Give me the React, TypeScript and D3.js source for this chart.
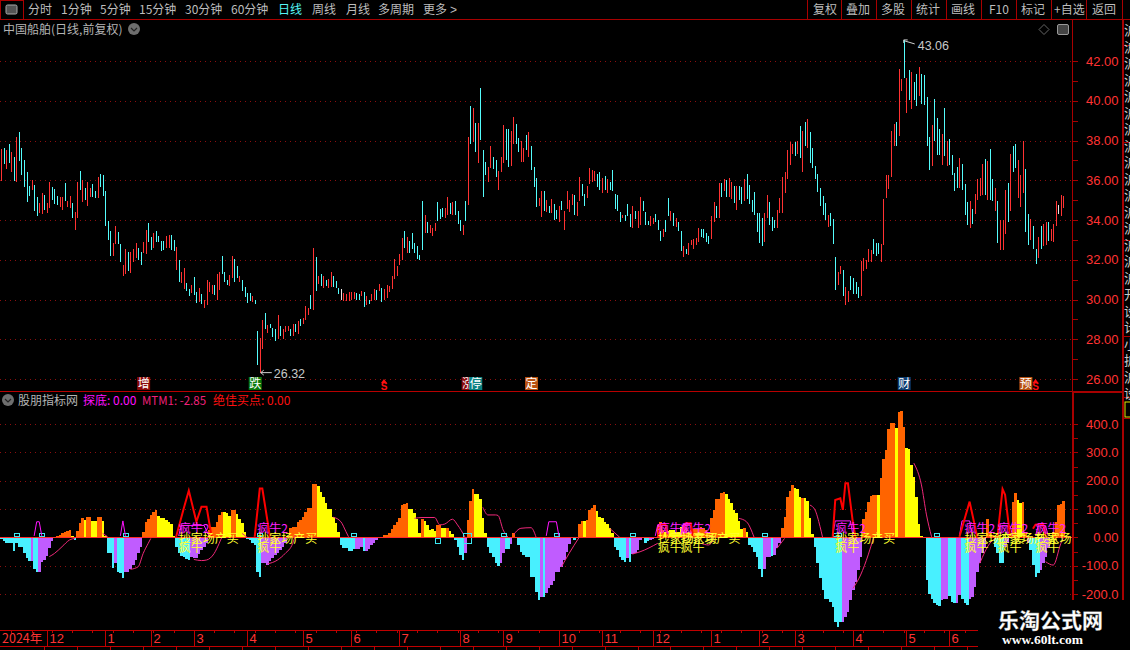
import { useEffect, useRef } from 'react';
import * as d3 from 'd3';

const highs = [
  37.57, 37.6, 37.5, 37.8, 37.4, 37.15, 38.2, 38.45, 37.6, 37,
  36.4, 35.7, 36, 35.75, 35.15, 34.85, 35.35, 35.25, 34.85, 35.9,
  35.65, 35.55, 35.2, 35.15, 35.15, 35.85, 34.95, 35.2, 34.85, 34.4,
  35.9, 36.45, 36, 35.6, 35.9, 35.6, 35.8, 35.45, 36.15, 36.3,
  36.25, 35.45, 33.95, 33.45, 32.85, 33.7, 33.4, 32.8, 31.75, 32.55,
  32.4, 32.4, 32.55, 32.85, 32.6, 32.4, 32.9, 33.5, 33.85, 33.15,
  33.35, 33.45, 33.2, 32.95, 32.95, 33.2, 33.25, 33.25, 33, 32.65,
  32, 31.4, 31.6, 30.85, 30.55, 30.75, 31.15, 30.4, 30.6, 30.3,
  30, 31, 30.9, 30.75, 30.75, 31.3, 31.4, 32.2, 31.4, 31,
  31.25, 32.2, 32.05, 31.7, 31.2, 31, 30.65, 30.35, 30.35, 30.2,
  30, 28.42, 28.07, 28.95, 29.3, 28.7, 28.75, 28.55, 28.5, 29.2,
  28.65, 28.5, 28.65, 28.65, 28.5, 28.75, 28.75, 28.9, 29, 29.05,
  29.65, 29.55, 30.25, 32.6, 32.15, 31.2, 31.3, 31.2, 31, 31.05,
  31.4, 31.2, 30.95, 30.6, 30.55, 30.35, 30.3, 30.4, 30.4, 30.4,
  30.35, 30.3, 30.45, 30.4, 30.2, 30, 30.3, 30.55, 30.5, 30.8,
  30.6, 30.55, 30.75, 30.7, 31.2, 32.05, 31.7, 32.3, 33.1, 33.45,
  33.15, 32.95, 33.35, 32.85, 32.7, 32.25, 34.95, 34.25, 33.9, 33.75,
  33.6, 33.85, 34.9, 34.55, 34.6, 34.6, 35.15, 34.85, 34.9, 34.95,
  34.45, 34, 33.75, 34.95, 38.2, 39.75, 39.65, 38.9, 38.9, 40.65,
  37.5, 36.9, 36.65, 37.7, 37.15, 37, 36.45, 37.15, 38.8, 38.6,
  38.6, 38.5, 39.2, 38.85, 38.15, 37.95, 37.6, 38.3, 38.45, 37.7,
  36.65, 36.1, 35.1, 35.45, 35.45, 35, 34.7, 35.05, 34.8, 34.5,
  34.7, 34.95, 34.45, 35.45, 35, 35.3, 35.25, 34.9, 36.15, 35.8,
  35.3, 35.7, 36.6, 36.5, 36.45, 36.3, 36.4, 36.1, 36.2, 36.05,
  35.9, 36.5, 35.3, 35.25, 34.4, 34.25, 34.25, 34.8, 34.3, 34.7,
  34.45, 34.45, 35.15, 34.95, 34.4, 33.95, 34.2, 34.1, 34.3, 34,
  33.45, 33.55, 34, 35.1, 34.45, 34.35, 34.1, 33.9, 33.45, 32.7,
  32.55, 32.85, 33, 33.05, 33.1, 33.6, 33.55, 33.55, 33.35, 33.2,
  34.2, 34.9, 34.7, 35.85, 35.85, 36.05, 36, 36.1, 35.9, 35.7,
  35.7, 35.7, 35.65, 36.05, 36.3, 35.75, 35, 35.4, 34.35, 34.35,
  34.1, 34.35, 35.25, 34.9, 34.15, 34, 34.5, 35.1, 36.15, 36.4,
  37.5, 37.9, 37.8, 37.9, 38, 38.75, 38.5, 38.95, 39.1, 38.45,
  37.6, 36.7, 36.3, 35.6, 35.2, 34.85, 34.25, 34.35, 34.05, 32.15,
  31.4, 31.7, 31.5, 30.65, 30.45, 31.2, 31.1, 30.9, 30.65, 31.95,
  32.1, 32, 32.55, 32.5, 33.05, 32.85, 32.85, 32.8, 35.05, 36.25,
  36.25, 38.5, 38.85, 38.95, 41.6, 41.1, 43.06, 41.15, 41.55, 41.45,
  40.95, 41.35, 41.7, 41.35, 41.3, 40.2, 38.2, 38.8, 40.1, 39.15,
  38.6, 38.35, 39.65, 38, 38.1, 37.25, 36.35, 36.65, 37.1, 36.8,
  35.8, 34.9, 34.95, 34.55, 35.3, 36.05, 36.1, 36.8, 37.05, 36.95,
  37.55, 36.05, 35.6, 34.95, 34, 34, 35.5, 35.85, 37.3, 37.7,
  37.8, 37, 36.25, 37.95, 36.55, 34.3, 34.05, 33.7, 32.55, 33.15,
  33.7, 33.8, 33.9, 33.9, 33.55, 33.8, 34.95, 34.75, 35.25, 35.2,
];

const lows = [
  35.96, 36.8, 36.55, 36.85, 36.4, 35.95, 35.9, 36.95, 36.25, 35.65,
  34.9, 35.2, 35.5, 34.45, 34.2, 34.35, 34.3, 34.5, 34.35, 34.6,
  35, 34.8, 34.75, 34.65, 34.5, 34.95, 34.65, 34.6, 34.1, 33.5,
  34.1, 35.5, 34.9, 35, 34.7, 35.15, 35.15, 35.1, 35.1, 35.65,
  35.2, 33.7, 33, 32.2, 32.2, 32.8, 32.8, 31.9, 31.2, 31.3,
  31.45, 31.35, 31.9, 32.1, 32, 31.75, 32.35, 32.3, 32.9, 32.5,
  32.6, 32.9, 32.9, 32.45, 32.5, 32.6, 32.6, 32.5, 32.45, 31.5,
  30.9, 30.85, 30.55, 30.45, 30.2, 30.35, 30.25, 29.8, 29.85, 29.75,
  29.55, 29.7, 30.4, 30.3, 30.25, 30, 30.5, 31.3, 30.9, 30.75,
  30.7, 31.1, 30.9, 31.1, 30.9, 30.45, 30.15, 29.8, 29.9, 29.85,
  29.75, 26.71, 26.32, 27.5, 28.5, 28.3, 28.55, 28.1, 27.9, 28,
  28.15, 28, 28.35, 28.4, 28.15, 28.15, 28.35, 28.25, 28.65, 28.75,
  28.95, 29.2, 29.5, 29.45, 30.45, 30.8, 30.7, 30.6, 30.7, 30.6,
  30.65, 30.65, 30.6, 30.3, 30, 29.9, 29.9, 29.9, 30, 30.05,
  30, 30, 30.2, 29.6, 29.7, 29.75, 29.9, 30, 29.95, 30.45,
  29.85, 30, 30.1, 30.4, 30.55, 31.05, 31.2, 31.75, 32, 32.6,
  32.35, 32.35, 32.55, 32.35, 32.05, 32, 32.5, 33.35, 33.35, 33.35,
  33.2, 33.45, 33.95, 34.05, 34.15, 34.1, 34.25, 34.3, 34.25, 34.25,
  33.8, 33.45, 33.25, 33.95, 34.75, 37.8, 37.9, 37.4, 36.85, 38.05,
  35.15, 36.25, 35.9, 36.6, 36.55, 36.15, 35.5, 36.4, 36.85, 37,
  36.65, 36.7, 37.8, 37.8, 37.4, 36.9, 36.9, 37.5, 37.15, 36.5,
  35.65, 34.65, 34.7, 34.15, 34.45, 34.4, 34.35, 34.35, 34, 34.05,
  33.9, 34.5, 33.5, 34.55, 34.4, 34.75, 34.25, 34.2, 34.95, 35.2,
  34.7, 35.1, 35.8, 35.9, 35.95, 35.65, 35.5, 35.35, 35.5, 35.35,
  35.5, 35.45, 34.55, 34.45, 33.9, 34.1, 33.95, 34.2, 33.65, 33.6,
  34.05, 33.6, 33.75, 34.45, 33.75, 33.75, 33.7, 33.8, 33.9, 33.5,
  32.95, 33.15, 33.4, 34.2, 33.95, 33.7, 33.65, 33.45, 32.45, 32.15,
  32.3, 32.25, 32.75, 32.55, 32.75, 32.9, 33.15, 33.1, 32.9, 32.8,
  33.05, 33.9, 34.1, 34.1, 35.15, 35.45, 35.15, 35.15, 35.05, 34.85,
  34.5, 35, 34.8, 34.95, 35.05, 34.8, 34.4, 34.25, 33.4, 32.85,
  32.7, 32.9, 34.1, 33.75, 33.45, 33.6, 33.6, 34.35, 34.35, 35.35,
  36.05, 36.75, 37.3, 37.2, 37.3, 37.1, 36.4, 37.7, 37.6, 36.85,
  36.6, 36.05, 35.4, 34.7, 34.25, 34, 33.65, 33.7, 32.8, 30.5,
  30.75, 31.3, 30.2, 29.7, 29.85, 30.5, 30.3, 30.3, 30.1, 30.2,
  31.45, 31.55, 31.9, 31.9, 32.3, 32.2, 32.3, 31.9, 32.75, 35.1,
  35.55, 36.15, 37.7, 37.7, 38.25, 40.5, 41.15, 39.4, 40.05, 39.6,
  40.05, 39.75, 40.25, 39.85, 39.8, 37.7, 36.5, 36.7, 37.95, 37.25,
  37.25, 36.75, 37.2, 36.7, 36.75, 36.25, 35.45, 35.6, 35.6, 35.5,
  34.25, 33.75, 33.6, 33.8, 34.3, 35, 35.2, 35.25, 35.25, 35,
  35, 34.95, 34.45, 32.85, 32.5, 32.5, 33.3, 33.9, 34.45, 36.4,
  36.6, 35.1, 34.65, 35.35, 33.4, 32.75, 33, 32.55, 31.8, 32.1,
  32.55, 32.7, 32.75, 32.95, 32.95, 32.9, 33.7, 34.3, 34.2, 34.6,
];

const candleKinds = [
  'rcrcrcrccc', 'ccrccrrcrr', 'cccrrcrrcr', 'rcrcrrccrc', 'ccccrrccrr',
  'crrrccrrcc', 'rccccrrccr', 'crrccrccrc', 'rrrrcrrccc', 'rrccrccccr',
  'ccrrcrcccr', 'crrrcrcrcr', 'rrcrcrcrcr', 'rcccwrrrrr', 'ccrcrcrrcr',
  'crrrrrrrrc', 'rccccccrcr', 'rrcccrrcrc', 'ccrcrcrcrc', 'ccrrccrrrc',
  'crrccrrcrc', 'ccrrcrcrcc', 'rcrrrrcrrc', 'crrrrccrcr', 'cccccrcccr',
  'crrcccrrcc', 'crccrcrccr', 'crrrrrcccc', 'rrcrcrcrrc', 'rccrcccccc',
  'crrcccrrrr', 'rrrcrcrcrc', 'ccccccrccc', 'rrcrrccccr', 'rrrrcccrrr',
  'rrrcrrcrcr', 'ccrccccrcc', 'crcrccccrc', 'ccrcrrrrcr', 'ccrcrrrcrc',
  'crrrccrccr', 'crrcrrrwrr',
].join('');

const histValues = [
  -5, -12, -19, -19, -19, -48, -19, -33, -33, -57,
  -74, -84, -84, -112, -121, -121, -88, -80, -65, -37,
  -12, -4, 4, 7, 14, 19, 22, 26, 5, -9,
  24, 50, 67, 61, 72, 72, 59, 59, 72, 72,
  58, 6, -57, -57, -107, -92, -121, -125, -143, -121,
  -121, -112, -98, -80, -57, -33, 20, 53, 64, 79,
  90, 97, 75, 67, 67, 60, 53, 47, 3, -33,
  -57, -66, -68, -78, -80, -68, -74, -74, -59, -45,
  -33, -21, 26, 35, 35, 55, 80, 90, 90, 85,
  75, 97, 97, 82, 64, 50, 20, -5, -9, -21,
  -27, -121, -139, -92, -92, -98, -82, -74, -62, -54,
  -45, -33, -19, -4, 32, 35, 35, 55, 61, 73,
  91, 102, 105, 188, 188, 181, 161, 141, 120, 99,
  99, 71, 49, 19, -27, -37, -37, -48, -48, -41,
  -41, -41, -33, -48, -48, -40, -27, -19, -9, -3,
  -4, 7, 9, 16, 29, 42, 55, 67, 114, 118,
  120, 99, 99, 85, 64, 14, 65, 59, 44, 26,
  29, 22, 44, 44, 32, 32, 32, 22, 12, -10,
  -33, -62, -80, -57, 61, 128, 171, 152, 152, 135,
  67, 14, -33, -57, -68, -92, -101, -92, -57, -41,
  -41, -24, 14, -4, -27, -51, -62, -68, -68, -139,
  -139, -192, -221, -212, -210, -198, -180, -168, -154, -121,
  -121, -104, -80, -51, -25, -3, -9, 2, 47, 59,
  59, 61, 97, 102, 114, 93, 73, 67, 55, 47,
  32, 14, -33, -45, -68, -80, -86, -74, -86, -59,
  -57, -45, -9, -3, -19, -12, -9, -7, -3, 44,
  55, 26, 20, 24, 26, 26, 20, 20, 35, 44,
  32, 20, 26, 28, 28, 28, 35, 32, 26, 16,
  67, 97, 134, 134, 155, 160, 152, 134, 120, 97,
  85, 59, 29, 32, 20, -27, -33, -52, -68, -110,
  -139, -112, -68, -68, -65, -62, -39, -19, 32, 71,
  144, 165, 185, 173, 170, 141, 138, 138, 130, 67,
  12, -33, -90, -145, -186, -216, -219, -227, -245, -298,
  -316, -298, -298, -280, -263, -221, -186, -157, -115, -68,
  64, 91, 126, 146, 148, 148, 148, 208, 276, 309,
  382, 405, 405, 385, 444, 446, 391, 315, 311, 256,
  212, 141, 47, 5, 2, -151, -200, -216, -231, -239,
  -243, -221, -219, -216, -207, -227, -233, -233, -204, -219,
  -233, -239, -216, -210, -174, -121, -92, -57, -33, 64,
  20, 8, -33, -57, -92, -92, -33, -21, 5, 126,
  155, 132, 120, 126, 14, -21, -45, -98, -139, -127,
  -115, -92, -68, -39, 2, 20, 55, 114, 116, 128,
];

// bars drawn in the lighter colour of their pair (yellow above zero, purple below)
const softBarRanges = [
  [12, 12], [15, 21], [28, 28], [33, 33], [36, 37], [40, 41], [45, 45], [49, 55], [62, 68], [75, 81],
  [88, 90], [93, 96], [103, 113], [125, 133], [140, 142], [144, 149], [161, 165], [167, 171], [174, 175],
  [177, 178], [183, 183], [187, 191], [197, 198], [201, 201], [213, 213], [215, 225], [230, 230], [235, 241],
  [247, 247], [249, 253], [256, 258], [262, 268], [286, 292], [294, 294], [301, 303], [305, 307], [313, 315],
  [317, 320], [332, 339], [346, 346], [353, 353], [357, 363], [371, 373], [377, 378], [382, 388], [396, 397],
  [401, 402], [405, 405], [410, 414],
];

// [bar index, indicator value]
const pinkSegments = [
  [[19, -68], [21, -57], [24, -33], [27, -9], [29, -4]],
  [[40, 14], [42, 2]],
  [[51, -113], [54, -104], [56, -57], [58, -21], [59, -4]],
  [[76, -78], [79, -82], [81, -80], [84, -57], [86, -21], [87, 0]],
  [[95, 14], [97, 0]],
  [[105, -94], [109, -80], [112, -57], [115, -21], [116, 8]],
  [[131, 71], [134, 55], [136, 20], [137, 2]],
  [[163, 67], [166, 70], [171, 70], [173, 44], [175, 47], [178, 64], [180, 44], [183, 0]],
  [[190, 106], [192, 79], [195, 79], [196, 77], [198, 26], [200, 0]],
  [[202, 8], [205, 32], [209, 34], [211, 0]],
  [[221, -104], [224, -57], [228, 0]],
  [[240, 32], [244, 0]],
  [[249, -59], [252, -51], [259, -21]],
  [[276, -21], [279, -27], [281, -9]],
  [[291, 67], [294, 55], [297, 0]],
  [[306, -39], [309, -4]],
  [[319, 114], [321, 97], [323, 38], [324, 0]],
  [[336, -180], [339, -133], [342, -62], [344, -4]],
  [[360, 262], [363, 185], [365, 79], [367, 2]],
  [[386, -92], [390, -21], [392, -4]],
  [[412, -86], [415, -98], [418, -21], [419, 0]],
];

const redSegments = [
  [[69, 2], [72, 102], [74, 165], [77, 55], [79, 108], [81, 108], [83, 2]],
  [[100, 2], [102, 172], [103, 172], [105, 60], [106, 2]],
  [[259, 2], [260, 45], [262, 45], [263, 2]],
  [[269, 2], [270, 50], [272, 50], [273, 2]],
  [[328, 2], [329, 132], [331, 138], [332, 97], [333, 191], [334, 191], [336, 49], [337, 2]],
  [[378, 2], [382, 126], [385, 2]],
  [[393, 2], [395, 170], [396, 150], [398, 2]],
  [[407, 30], [408, 45], [411, 48], [412, 2]],
];

const magentaSegments = [
  [[13, 5], [14, 55], [15, 55], [16, 5]],
  [[47, 5], [48, 58], [49, 5]],
  [[70, 5], [71, 42], [80, 42], [82, 5]],
  [[215, 5], [216, 55], [219, 55], [220, 5]],
  [[258, 5], [259, 45], [262, 45], [263, 5]],
  [[268, 5], [269, 45], [272, 45], [273, 5]],
  [[328, 5], [329, 58], [335, 58], [336, 5]],
  [[378, 5], [379, 58], [382, 58], [383, 5]],
  [[393, 5], [394, 40], [398, 40], [399, 5]],
  [[408, 5], [409, 40], [412, 40], [413, 5]],
];

// [first bar, last bar, low value, high value]
const cyanBoxes = [
  [5, 7, 4, 16], [15, 17, 4, 16], [48, 50, 4, 16], [101, 103, 4, 16], [138, 140, 4, 16],
  [171, 173, -21, -4], [182, 185, -21, 16], [197, 199, 4, 16], [218, 220, 4, 16], [248, 250, 4, 16],
  [300, 302, 4, 16], [328, 331, 4, 16], [368, 370, 4, 16],
];

const signalBars = [70, 101, 259, 268, 329, 380, 393, 408];
const signalTop = '疯牛2';
const signalMiddle = '抄家场产买';
const signalBottom = '疯牛';

const eventMarks = [
  { bar: 56, label: '增', bg: '#8a0a0a' },
  { bar: 100, label: '跌', bg: '#0a780a' },
  { bar: 184, label: '涨', bg: '#8a0a0a' },
  { bar: 187, label: '停', bg: '#0a8080' },
  { bar: 209, label: '定', bg: '#b8500f' },
  { bar: 356, label: '财', bg: '#0c3c70' },
  { bar: 404, label: '预', bg: '#b8500f' },
];
const sMarks = [151, 408];

const priceTicks = d3.range(26, 43, 1);
const indicatorTicks = d3.range(-200, 401, 50);

const monthBars = [18, 41, 59, 76, 97, 119, 138, 157, 181, 198, 220, 237, 257, 280, 299, 313, 336, 357, 374];
const monthLabels = ['12', '1', '2', '3', '4', '5', '6', '7', '8', '9', '10', '11', '12', '1', '2', '3', '4', '5', '6'];

const toolbarLeft = [
  ['分时', 28], ['1分钟', 61], ['5分钟', 100], ['15分钟', 139], ['30分钟', 185], ['60分钟', 231],
  ['日线', 278], ['周线', 312], ['月线', 346], ['多周期', 378], ['更多', 423],
] as [string, number][];
const toolbarRight = [
  ['复权', 813], ['叠加', 846], ['多股', 881], ['统计', 916], ['画线', 951],
  ['F10', 989], ['标记', 1021], ['+自选', 1054], ['返回', 1092],
] as [string, number][];
const toolbarSeparators = [807, 841, 876, 911, 946, 981, 1016, 1051, 1086, 1122];

const sideChars = ['沪', '沪', '沪', '沪', '沪', '沪', '沪', '沪', '沪', '沪', '沪', '沪', '沪', '沪', '沪', '沪', '开', '设', '计', '小', '扩', '沪', '设'];

const CJK = '"Noto Sans CJK SC", sans-serif';
const LATIN = '"Liberation Sans", Arial, sans-serif';
const AXIS_RED = '#ff3333';
const FRAME_RED = '#a80000';
const GRID_RED = '#8c0f0f';

export default function App() {
  const svgRef = useRef<SVGSVGElement>(null);

  useEffect(() => {
    if (!svgRef.current) return;
    const svg = d3.select(svgRef.current);
    svg.selectAll('*').remove();

    const barX = d3.scaleLinear().domain([0, 419]).range([1.2, 1063.4]);
    const priceY = d3.scaleLinear().domain([26, 42]).range([379, 61]);
    const indY = d3.scaleLinear().domain([-200, 400]).range([594, 424]);

    svg.append('rect').attr('width', 1130).attr('height', 650).attr('fill', '#000');

    const text = (x: number, y: number, s: string, fill: string, size = 12, family = CJK, anchor = 'start') =>
      svg.append('text').attr('x', x).attr('y', y).attr('fill', fill)
        .attr('font-size', size).attr('font-family', family).attr('text-anchor', anchor).text(s);
    const rule = (x1: number, y1: number, x2: number, y2: number, stroke: string, w = 1) =>
      svg.append('line').attr('x1', x1).attr('y1', y1).attr('x2', x2).attr('y2', y2)
        .attr('stroke', stroke).attr('stroke-width', w).attr('shape-rendering', 'crispEdges');

    // Grid
    priceTicks.filter(d => d % 2 === 0).forEach(d => {
      rule(0, Math.round(priceY(d)) + 0.5, 1072, Math.round(priceY(d)) + 0.5, GRID_RED).attr('stroke-dasharray', '1,4');
    });
    indicatorTicks.filter(d => d % 100 === 0 && d !== 0).forEach(d => {
      rule(0, Math.round(indY(d)) + 0.5, 1072, Math.round(indY(d)) + 0.5, GRID_RED).attr('stroke-dasharray', '1,4');
    });

    // Candles
    const candleColor: Record<string, string> = { r: '#ff3232', c: '#54fcfc', w: '#e8e8e8' };
    svg.append('g').selectAll('line').data(highs).join('line')
      .attr('x1', (_, i) => Math.round(barX(i)) + 0.5)
      .attr('x2', (_, i) => Math.round(barX(i)) + 0.5)
      .attr('y1', d => priceY(d))
      .attr('y2', (_, i) => priceY(lows[i]))
      .attr('stroke', (_, i) => candleColor[candleKinds[i]])
      .attr('shape-rendering', 'crispEdges');

    // High / low notes
    const hiX = barX(356), hiY = priceY(43.06);
    svg.append('path').attr('d', `M${hiX},${hiY + 3}V${hiY}H${hiX + 4}M${hiX + 1},${hiY + 1}L${hiX + 11},${hiY + 4}`)
      .attr('fill', 'none').attr('stroke', '#d0d0d0');
    text(hiX + 14, hiY + 10, '43.06', '#c8c8c8', 12.5, LATIN);
    const loX = barX(102), loY = priceY(26.32);
    svg.append('path').attr('d', `M${loX + 1},${loY}H${loX + 12}M${loX + 1},${loY}l3,-2.5M${loX + 1},${loY}l3,2.5`)
      .attr('fill', 'none').attr('stroke', '#d0d0d0');
    text(loX + 14, loY + 5, '26.32', '#c8c8c8', 12.5, LATIN);

    // Event marks
    eventMarks.forEach(m => {
      const x = barX(m.bar);
      svg.append('rect').attr('x', x - 6).attr('y', 377).attr('width', 13).attr('height', 13).attr('fill', m.bg);
      text(x + 0.5, 388, m.label, '#ffffff', 12, CJK, 'middle');
    });
    sMarks.forEach(b => {
      const x = barX(b);
      svg.append('path').attr('d', `M${x - 3},${383}L${x},${379}L${x + 3},${383}Z`).attr('fill', '#ff1010');
      text(x, 390, 'S', '#ff1010', 10, LATIN, 'middle').attr('font-weight', 700);
    });

    // Indicator histogram
    const soft = new Set<number>();
    softBarRanges.forEach(([a, b]) => d3.range(a, b + 1).forEach(i => soft.add(i)));
    const zeroY = indY(0);
    svg.append('g').selectAll('rect').data(histValues).join('rect')
      .attr('x', (_, i) => Math.round(barX(i) - 1))
      .attr('width', (_, i) => Math.round(barX(i + 1) - 1) - Math.round(barX(i) - 1))
      .attr('y', d => Math.min(indY(d), zeroY))
      .attr('height', d => Math.abs(indY(d) - zeroY))
      .attr('fill', (d, i) => d >= 0 ? (soft.has(i) ? '#ffff00' : '#ff6400') : (soft.has(i) ? '#c05cff' : '#48f0ff'))
      .attr('shape-rendering', 'crispEdges');

    // Overlay lines
    const line = d3.line<number[]>().x(d => barX(d[0])).y(d => indY(d[1]));
    const curve = d3.line<number[]>().x(d => barX(d[0])).y(d => indY(d[1])).curve(d3.curveMonotoneX);
    pinkSegments.forEach(seg => {
      svg.append('path').attr('d', curve(seg)).attr('fill', 'none').attr('stroke', '#f0287a').attr('stroke-width', 1);
    });
    cyanBoxes.forEach(([a, b, lo, hi]) => {
      svg.append('rect').attr('x', Math.round(barX(a)) + 0.5).attr('y', Math.round(indY(hi)) + 0.5)
        .attr('width', Math.round(barX(b) - barX(a))).attr('height', Math.round(indY(lo) - indY(hi)))
        .attr('fill', 'none').attr('stroke', '#3ce8f0').attr('shape-rendering', 'crispEdges');
    });
    magentaSegments.forEach(seg => {
      svg.append('path').attr('d', line(seg)).attr('fill', 'none').attr('stroke', '#ff14ff').attr('stroke-width', 1);
    });
    redSegments.forEach(seg => {
      svg.append('path').attr('d', line(seg)).attr('fill', 'none').attr('stroke', '#ff0000').attr('stroke-width', 2);
    });
    rule(0, Math.round(zeroY) + 0.5, 1072, Math.round(zeroY) + 0.5, '#ff2a2a', 1.5);

    // Signal labels stop at the axis, the last one is cut there
    svg.append('clipPath').attr('id', 'plot-clip').append('rect').attr('x', 0).attr('y', 392).attr('width', 1071).attr('height', 238);
    const signals = svg.append('g').attr('clip-path', 'url(#plot-clip)');
    const signalText = (x: number, y: number, s: string, fill: string) =>
      signals.append('text').attr('x', x).attr('y', y).attr('fill', fill)
        .attr('font-size', 12).attr('font-family', CJK).text(s);
    signalBars.forEach(b => {
      const x = barX(b);
      signalText(x, 533, signalTop, '#ff20ff');
      signalText(x, 543, signalMiddle, '#ffff30');
      signalText(x, 552, signalBottom, '#ffff30');
    });

    // Right axes
    const priceAxis = d3.axisRight(priceY).tickValues(priceTicks)
      .tickSize(5).tickPadding(0)
      .tickFormat(d => ((d as number) % 2 === 0 ? (d as number).toFixed(2) : ''));
    const indAxis = d3.axisRight(indY).tickValues(indicatorTicks)
      .tickSize(5).tickPadding(0)
      .tickFormat(d => {
        const v = d as number;
        if (v === 0) return '0.00';
        return v % 100 === 0 ? v.toFixed(1) : '';
      });
    [priceAxis, indAxis].forEach(axis => {
      const g = svg.append('g').attr('transform', 'translate(1072.5,0)').call(axis as any);
      g.select('.domain').remove();
      g.selectAll('line').attr('stroke', FRAME_RED).attr('shape-rendering', 'crispEdges');
      g.selectAll('text').attr('x', 46).attr('text-anchor', 'end').attr('fill', AXIS_RED)
        .attr('font-size', 13).attr('font-family', LATIN);
    });

    // Frame
    rule(0, 19.5, 1130, 19.5, FRAME_RED);
    rule(0, 391.5, 1072, 391.5, '#b80000');
    rule(1072.5, 19, 1072.5, 391, FRAME_RED);
    rule(1072.5, 391, 1072.5, 630, FRAME_RED, 2);
    rule(1072, 391.5, 1123, 391.5, FRAME_RED, 2);
    rule(1123, 19, 1123, 630, FRAME_RED, 2);
    [45, 142, 240, 336, 397, 418].forEach(y => rule(1123, y + 0.5, 1130, y + 0.5, FRAME_RED));

    // Clipped side list
    svg.append('clipPath').attr('id', 'side-clip').append('rect').attr('x', 1124).attr('y', 20).attr('width', 6).attr('height', 580);
    const side = svg.append('g').attr('clip-path', 'url(#side-clip)');
    sideChars.forEach((c, i) => {
      side.append('text').attr('x', 1124).attr('y', 35 + i * 16.5).attr('fill', '#c8c8c8')
        .attr('font-size', 13).attr('font-family', CJK).text(c);
    });
    side.append('rect').attr('x', 1125).attr('y', 402).attr('width', 6).attr('height', 15).attr('fill', 'none').attr('stroke', '#e6e600');

    // Toolbar
    svg.append('rect').attr('x', 0.5).attr('y', 0.5).attr('width', 23).attr('height', 19).attr('fill', 'none').attr('stroke', FRAME_RED);
    svg.append('rect').attr('x', 6).attr('y', 5).attr('width', 11).attr('height', 9).attr('rx', 1.5).attr('fill', '#555').attr('stroke', '#aaa');
    toolbarLeft.forEach(([s, x]) => text(x, 14, s, s === '日线' ? '#55f5f5' : '#bdbdbd', 12));
    text(450, 14, '>', '#bdbdbd', 12, LATIN);
    toolbarRight.forEach(([s, x]) => text(x, 14, s, '#bdbdbd', 12));
    toolbarSeparators.forEach(x => rule(x + 0.5, 0, x + 0.5, 19, FRAME_RED));

    // Panel titles
    text(3, 34, '中国船舶(日线,前复权)', '#b4b4b4', 12);
    const chevron = (cx: number, cy: number) => {
      svg.append('circle').attr('cx', cx).attr('cy', cy).attr('r', 6).attr('fill', '#6e6e6e');
      svg.append('path').attr('d', `M${cx - 3},${cy - 1}L${cx},${cy + 2}L${cx + 3},${cy - 1}`).attr('fill', 'none').attr('stroke', '#222').attr('stroke-width', 1.2);
    };
    chevron(134, 29);
    svg.append('path').attr('d', 'M1044,24.5L1049,29.5L1044,34.5L1039,29.5Z').attr('fill', 'none').attr('stroke', '#666');
    svg.append('rect').attr('x', 1057.5).attr('y', 24.5).attr('width', 11).attr('height', 10).attr('rx', 1.5).attr('fill', '#444').attr('stroke', '#999');

    chevron(8, 400);
    text(18, 405, '股朋指标网', '#b4b4b4', 12);
    text(83, 405, '探底: 0.00', '#ff10ff', 12);
    text(142, 405, 'MTM1: -2.85', '#f0207a', 11.5);
    text(213, 405, '绝佳买点: 0.00', '#ff1010', 12);

    // Time axis
    rule(0, 630.5, 1130, 630.5, '#c00000');
    rule(0, 646.5, 1130, 646.5, '#c00000');
    d3.range(4, 420, 8).forEach(i => rule(Math.round(barX(i)) + 0.5, 630, Math.round(barX(i)) + 0.5, 633, '#c00000'));
    d3.range(17, 420, 13).forEach(i => rule(Math.round(barX(i)) + 0.5, 646, Math.round(barX(i)) + 0.5, 650, '#c00000'));
    text(2, 643, '2024年', AXIS_RED, 12.5);
    monthBars.forEach((b, i) => {
      const x = Math.round(barX(b)) + 0.5;
      rule(x, 630, x, 646, '#c00000');
      text(x + 2, 643, monthLabels[i], AXIS_RED, 13, LATIN);
    });

    // Watermark
    svg.append('rect').attr('x', 978).attr('y', 600).attr('width', 152).attr('height', 50).attr('fill', '#000');
    const wm = text(998, 628, '乐淘公式网', '#ffffff', 21);
    wm.attr('font-weight', 700).attr('stroke', '#999').attr('stroke-width', 0.3);
    text(1002, 644, 'www.60lt.com', '#ffffff', 13.5, '"Liberation Serif", serif').attr('font-weight', 700);
  }, []);

  return (
    <svg
      ref={svgRef}
      width={1130}
      height={650}
      style={{ position: 'absolute', left: 0, top: 0, display: 'block' }}
    />
  );
}
